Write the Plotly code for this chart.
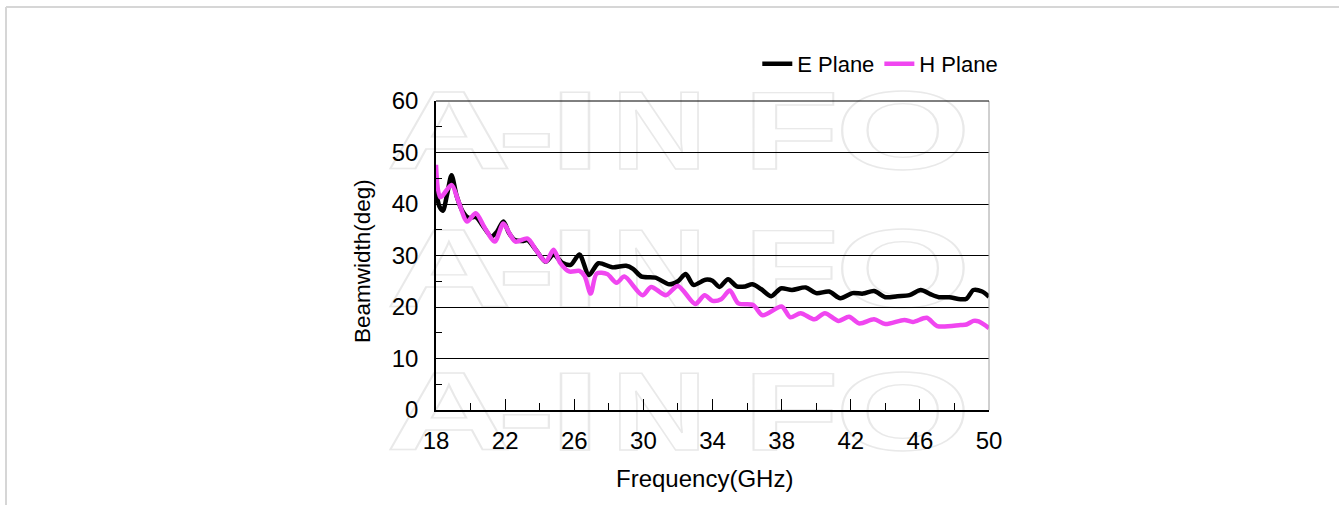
import base64
import plotly.graph_objects as go

# ---------------- data ----------------
freq_e = [18.0, 18.2, 18.4, 18.65, 18.9, 19.2, 19.55, 19.9, 20.3, 20.7, 21.2, 21.5, 21.9, 22.2,
          22.55, 23.0, 23.3, 23.8, 24.35, 24.8, 25.3, 25.8, 26.3, 26.85, 27.4, 28.2, 29.0, 29.4,
          29.9, 30.7, 31.5, 32.0, 32.45, 32.9, 33.6, 34.0, 34.4, 34.9, 35.4, 35.9, 36.3, 36.8,
          37.4, 37.95, 38.6, 39.4, 40.0, 40.75, 41.4, 42.1, 42.7, 43.35, 44.0, 44.7, 45.4, 46.05,
          46.6, 47.1, 47.7, 48.35, 48.7, 49.1, 49.6, 50.0]
bw_e = [42.7, 39.5, 38.7, 42.0, 45.6, 41.5, 38.5, 37.3, 37.5, 35.8, 33.7, 34.5, 36.6, 34.5,
        33.0, 32.8, 33.0, 31.0, 28.8, 30.2, 28.6, 28.2, 30.2, 26.2, 28.5, 27.7, 28.0, 27.4,
        25.9, 25.7, 24.4, 25.0, 26.4, 24.3, 25.3, 25.1, 23.9, 25.4, 24.0, 24.0, 24.4, 23.5,
        22.1, 23.6, 23.3, 23.8, 22.7, 23.0, 21.7, 22.7, 22.6, 23.1, 21.9, 22.1, 22.3, 23.3,
        22.5, 21.9, 21.9, 21.5, 21.6, 23.3, 23.0, 22.0]

freq_h = [18.0, 18.25, 18.9, 19.3, 19.8, 20.3, 20.8, 21.4, 21.9, 22.3, 22.6, 23.3, 23.8, 24.35,
          24.8, 25.2, 25.7, 26.3, 26.6, 26.95, 27.3, 27.9, 28.45, 28.9, 29.95, 30.45, 31.3, 32.0,
          33.0, 33.55, 34.0, 34.5, 35.0, 35.5, 36.35, 36.9, 38.0, 38.5, 39.1, 39.9, 40.5, 41.3,
          41.9, 42.5, 43.35, 44.0, 45.1, 45.6, 46.4, 47.0, 48.35, 48.7, 49.1, 49.4, 50.0]
bw_h = [47.6, 41.3, 43.7, 40.5, 36.6, 38.2, 35.5, 32.7, 36.2, 34.0, 32.7, 33.3, 31.0, 28.8,
        31.1, 28.5, 26.9, 27.0, 26.0, 22.6, 26.5, 26.4, 24.7, 25.9, 22.3, 23.9, 22.3, 24.1,
        20.6, 22.3, 21.2, 21.5, 23.2, 20.7, 20.4, 18.4, 20.1, 18.0, 18.8, 17.6, 18.8, 17.3,
        18.1, 16.8, 17.6, 16.7, 17.5, 17.1, 17.9, 16.3, 16.5, 16.6, 17.3, 17.2, 15.9]

series_names = ["E Plane", "H Plane"]
series_colors = ["#000000", "#f046f0"]

x_ticks = [18, 22, 26, 30, 34, 38, 42, 46, 50]
x_minor_ticks = [20, 24, 28, 32, 36, 40, 44, 48]

x_title = "Frequency(GHz)"
y_title = "Beamwidth(deg)"

# ---------------- figure geometry ----------------
W, H = 1339, 505
ML, MR, MT, MB = 436, 350, 101, 95
PW, PH = W - ML - MR, H - MT - MB

FONT = "Liberation Sans, Arial, sans-serif"

# ---------------- watermark (outlined text) + page frame as SVG image ----------------
wm_letters = [("A", 386, 126), ("-", 497, 59), ("I", 548, 54), ("N", 611, 96),
              ("F", 743, 96), ("O", 835, 136)]
wm_baselines = [169, 307, 450]
parts = []
for base in wm_baselines:
    for ch, x0, ln in wm_letters:
        parts.append(
            f'<text x="{x0}" y="{base}" textLength="{ln}" lengthAdjust="spacingAndGlyphs" '
            f'font-family="Liberation Sans, Arial" font-weight="bold" font-size="112" '
            f'fill="none" stroke="#e9e9e9" stroke-width="1.4">{ch}</text>')
parts.append('<line x1="6" y1="7" x2="1339" y2="7" stroke="#d6d6d6" stroke-width="2"/>')
parts.append('<line x1="6" y1="7" x2="6" y2="505" stroke="#d6d6d6" stroke-width="2"/>')
svg = (f'<svg xmlns="http://www.w3.org/2000/svg" width="{W}" height="{H}" '
       f'viewBox="0 0 {W} {H}" preserveAspectRatio="none">' + "".join(parts) + "</svg>")
svg_uri = "data:image/svg+xml;base64," + base64.b64encode(svg.encode()).decode()

fig = go.Figure()
for name, fx, fy, col in [(series_names[0], freq_e, bw_e, series_colors[0]),
                          (series_names[1], freq_h, bw_h, series_colors[1])]:
    fig.add_trace(go.Scatter(x=fx, y=fy, name=name, mode="lines",
                             line=dict(color=col, width=4.5, shape="spline", smoothing=0.8)))

fig.update_layout(
    width=W, height=H,
    margin=dict(l=ML, r=MR, t=MT, b=MB, autoexpand=False),
    paper_bgcolor="white",
    plot_bgcolor="rgba(0,0,0,0)",
    font=dict(family=FONT, color="black", size=24),
    showlegend=True,
    legend=dict(orientation="h", x=0.581, y=1 + 37 / PH, xanchor="left", yanchor="middle",
                font=dict(family=FONT, size=22, color="black"), bgcolor="rgba(0,0,0,0)",
                itemwidth=30, traceorder="normal"),
    images=[dict(source=svg_uri, xref="paper", yref="paper",
                 x=-ML / PW, y=1 + MT / PH, sizex=W / PW, sizey=H / PH,
                 xanchor="left", yanchor="top", sizing="stretch", layer="below")],
    shapes=[dict(type="line", xref="paper", yref="paper", x0=1, x1=1, y0=0, y1=1,
                 line=dict(color="#a0a0a0", width=1)),
            dict(type="line", xref="paper", yref="paper", x0=0, x1=1, y0=1, y1=1,
                 line=dict(color="black", width=1))],
    annotations=[
        dict(text=x_title, xref="paper", yref="paper", x=(704 - ML) / PW,
             y=-(478 - (H - MB)) / PH, xanchor="center", yanchor="middle", showarrow=False,
             font=dict(family=FONT, size=24, color="black")),
        dict(text=y_title, xref="paper", yref="paper", x=(362 - ML) / PW,
             y=((H - MB) - 261) / PH, xanchor="center", yanchor="middle", showarrow=False,
             textangle=-90, font=dict(family=FONT, size=22.5, color="black")),
    ],
)

fig.update_xaxes(
    range=[18, 50], tickmode="array", tickvals=x_ticks, ticktext=[str(v) for v in x_ticks],
    ticks="inside", ticklen=11, tickwidth=1, tickcolor="black",
    minor=dict(tickmode="array", tickvals=x_minor_ticks, ticks="inside", ticklen=7,
               tickwidth=1, tickcolor="black", showgrid=False),
    showgrid=False, zeroline=False, showline=True, linecolor="black", linewidth=1.5,
    mirror=False, ticklabelstandoff=8,
    tickfont=dict(family=FONT, size=24, color="black"),
)
fig.update_yaxes(
    range=[0, 60], dtick=10, tick0=0,
    ticks="inside", ticklen=6, tickwidth=1, tickcolor="black",
    minor=dict(dtick=5, ticks="inside", ticklen=6, tickwidth=1, tickcolor="black",
               showgrid=False),
    showgrid=True, gridcolor="black", gridwidth=1, zeroline=False,
    showline=True, linecolor="black", linewidth=1.5, ticklabelstandoff=11,
    tickfont=dict(family=FONT, size=24, color="black"),
)

fig.write_html("out.html", config={"displayModeBar": False},
               post_script="document.body.style.margin='0px';")
